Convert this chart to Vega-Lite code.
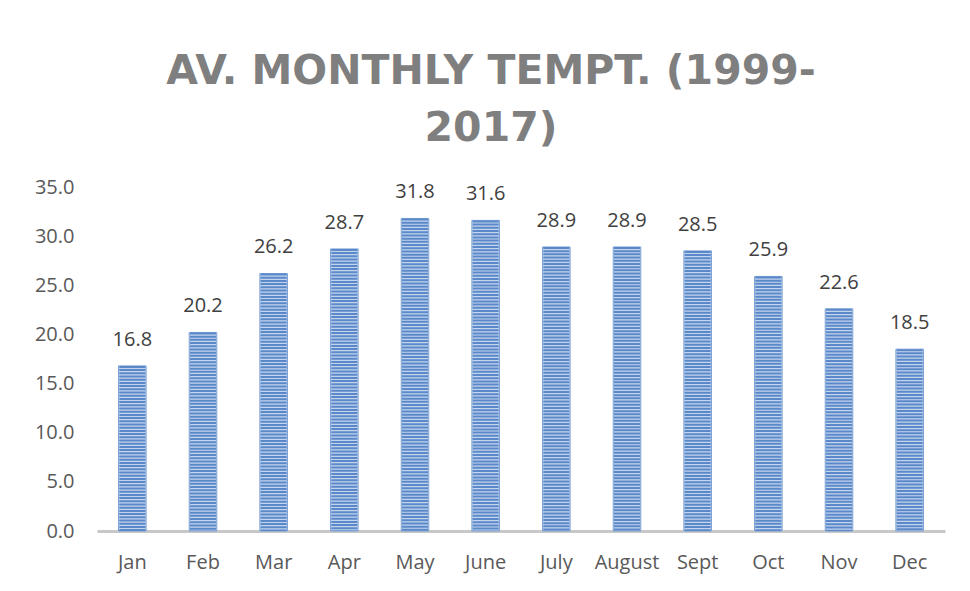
{
  "$schema": "https://vega.github.io/schema/vega-lite/v6.json",
  "width": 848,
  "height": 344,
  "autosize": {"type": "none"},
  "padding": {"left": 97, "top": 187, "right": 25, "bottom": 60},
  "background": "white",
  "config": {"view": {"stroke": null}},
  "title": {
    "text": ["AV. MONTHLY TEMPT. (1999-", "2017)"],
    "font": "DejaVu Sans",
    "fontSize": 41,
    "fontWeight": "bold",
    "color": "#7f7f7f",
    "lineHeight": 57,
    "anchor": "middle",
    "dx": -30,
    "offset": 27
  },
  "data": {
    "values": [
      {"month": "Jan", "temp": 16.8},
      {"month": "Feb", "temp": 20.2},
      {"month": "Mar", "temp": 26.2},
      {"month": "Apr", "temp": 28.7},
      {"month": "May", "temp": 31.8},
      {"month": "June", "temp": 31.6},
      {"month": "July", "temp": 28.9},
      {"month": "August", "temp": 28.9},
      {"month": "Sept", "temp": 28.5},
      {"month": "Oct", "temp": 25.9},
      {"month": "Nov", "temp": 22.6},
      {"month": "Dec", "temp": 18.5}
    ]
  },
  "encoding": {
    "x": {
      "field": "month",
      "type": "nominal",
      "sort": null,
      "scale": {"paddingInner": 0.61, "paddingOuter": 0.305},
      "axis": {
        "title": null,
        "labelAngle": 0,
        "labelFont": "Open Sans",
        "labelFontSize": 20,
        "labelColor": "#595959",
        "labelPadding": 21,
        "ticks": false,
        "domainColor": "#c8c8c8",
        "domainWidth": 3,
        "grid": false
      }
    },
    "y": {
      "field": "temp",
      "type": "quantitative",
      "scale": {"domain": [0, 35], "nice": false},
      "axis": {
        "title": null,
        "values": [0, 5, 10, 15, 20, 25, 30, 35],
        "format": ".1f",
        "labelFont": "Open Sans",
        "labelFontSize": 20,
        "labelColor": "#595959",
        "labelPadding": 23,
        "ticks": false,
        "domain": false,
        "grid": false
      }
    }
  },
  "layer": [
    {
      "mark": {"type": "bar", "fill": "#c3d5ec", "stroke": "#7aa0d4", "strokeWidth": 1}
    },
    {
      "mark": {"type": "rule", "color": "#5b88c9", "strokeWidth": 26, "strokeDash": [2, 1.2], "strokeCap": "butt"},
      "encoding": {"y2": {"datum": 0}}
    },
    {
      "mark": {"type": "text", "baseline": "alphabetic", "dy": -20, "font": "Open Sans", "fontSize": 20, "color": "#404040"},
      "encoding": {"text": {"field": "temp", "type": "quantitative", "format": ".1f"}}
    }
  ]
}
